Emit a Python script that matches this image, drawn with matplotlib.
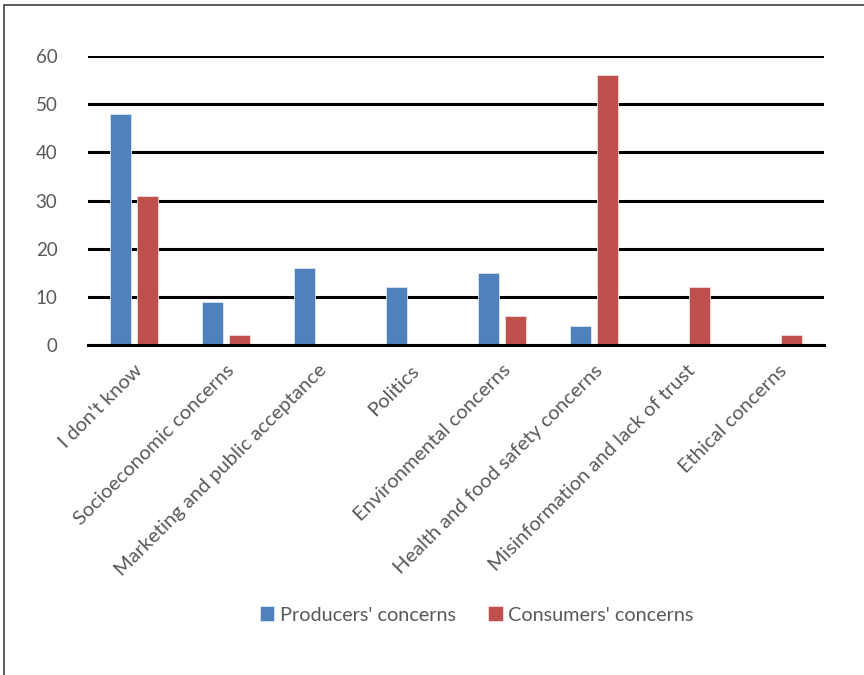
import numpy as np
import matplotlib
matplotlib.use("Agg")
from matplotlib import pyplot as plt
from matplotlib.patches import Rectangle

categories = ["I don't know", "Socioeconomic concerns", "Marketing and public acceptance",
              "Politics", "Environmental concerns", "Health and food safety concerns",
              "Misinformation and lack of trust", "Ethical concerns"]
producers = [48, 9, 16, 12, 15, 4, 0, 0]
consumers = [31, 2, 0, 0, 6, 56, 12, 2]

blue = '#4F81BD'
red = '#C0504D'
grey = '#595959'

plt.rcParams['font.family'] = ['Lato', 'DejaVu Sans']

fig = plt.figure(figsize=(8.64, 6.75), dpi=100)
ax = fig.add_axes([88/864, 1 - 345/675, (824-88)/864, (345-56)/675])

x = np.arange(len(categories))
w = 0.228
off = 0.147
ax.bar(x - off, producers, w, color=blue, edgecolor='#dce6f2', linewidth=0.6,
       label="Producers' concerns", zorder=3)
ax.bar(x + off, consumers, w, color=red, edgecolor='#f2dcdb', linewidth=0.6,
       label="Consumers' concerns", zorder=3)

ax.set_xlim(-0.5, len(categories) - 0.5)
ax.set_ylim(0, 60)
ax.set_yticks(range(0, 61, 10))
ax.yaxis.grid(True, color='black', linewidth=2.2, zorder=1)
ax.set_axisbelow(True)
for s in ['top', 'right', 'left']:
    ax.spines[s].set_visible(False)
ax.spines['bottom'].set_color('black')
ax.spines['bottom'].set_linewidth(2.2)
ax.spines['bottom'].set_zorder(4)

ax.tick_params(axis='both', length=0, labelcolor=grey)
ax.tick_params(axis='y', pad=22, labelsize=13.5)
ax.set_xticks(x)
ax.set_xticklabels(categories, rotation=45, ha='right', rotation_mode='anchor')
ax.tick_params(axis='x', pad=12, labelsize=14.5)

fig.legend(loc='center', bbox_to_anchor=(477/864, 1 - 615/675), ncol=2, frameon=False,
           fontsize=14.3, labelcolor=grey, handlelength=0.72, handleheight=0.72,
           handletextpad=0.3, columnspacing=1.6)

# frame around the chart area
fig.patches.append(Rectangle((4/864, -0.05), 1.2, 1 - 5/675 + 0.05, transform=fig.transFigure,
                             fill=False, edgecolor='#404040', linewidth=1.2))

fig.savefig('out.png', dpi=100)
